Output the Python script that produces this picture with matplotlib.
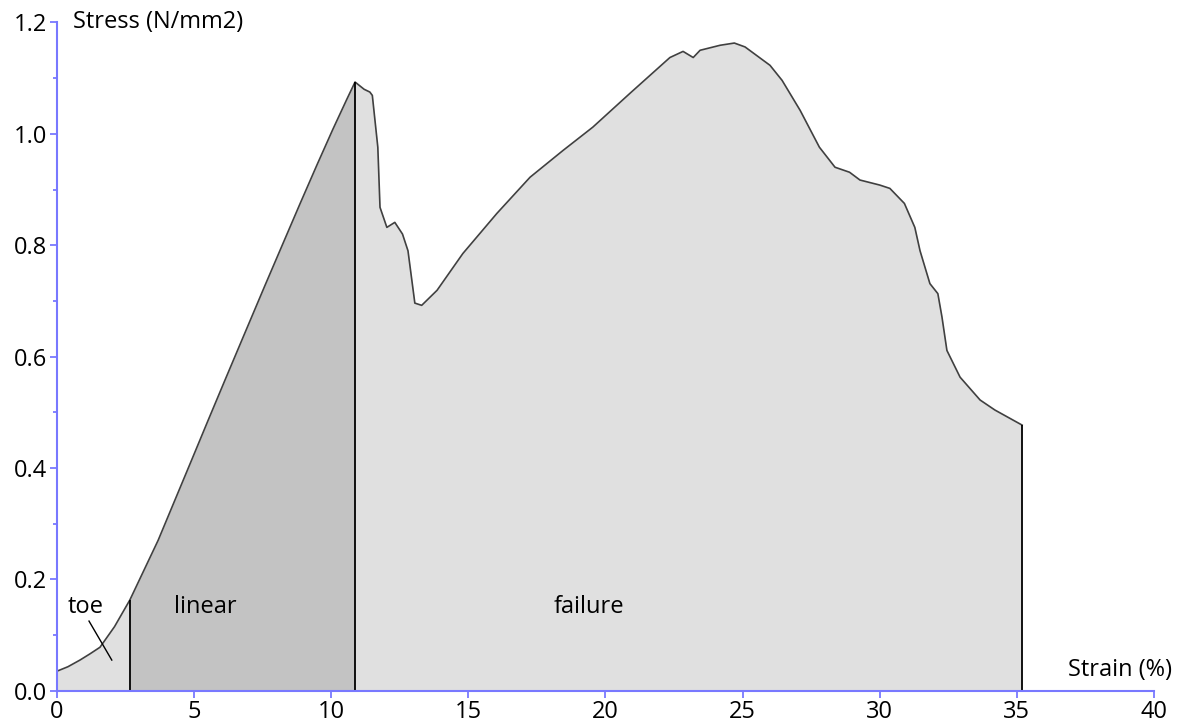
import numpy as np
import matplotlib.pyplot as plt
from matplotlib.ticker import MultipleLocator, FormatStrFormatter

# stress-strain curve
strain = [0.0, 0.4, 0.84, 1.2, 1.57, 2.1, 2.66, 3.69, 4.41, 4.91, 5.5, 6.13, 6.73,
          7.58, 8.25, 8.86, 9.48, 10.06, 10.57, 10.87, 11.2, 11.41, 11.5, 11.7, 11.78,
          12.03, 12.32, 12.6, 12.8, 13.05, 13.3, 13.86, 14.8, 16.04, 17.25, 18.45,
          19.54, 20.9, 22.35, 22.83, 23.2, 23.45, 24.18, 24.7, 25.09, 26.0, 26.44,
          27.1, 27.8, 28.37, 28.9, 29.28, 30.0, 30.37, 30.9, 31.28, 31.47, 31.83,
          32.12, 32.27, 32.45, 32.93, 33.66, 34.2, 35.19]
stress = [0.035, 0.043, 0.055, 0.066, 0.078, 0.115, 0.163, 0.27, 0.355, 0.414,
          0.484, 0.558, 0.628, 0.727, 0.804, 0.874, 0.944, 1.008, 1.062, 1.093, 1.08,
          1.075, 1.069, 0.976, 0.868, 0.832, 0.841, 0.82, 0.79, 0.696, 0.692, 0.719,
          0.785, 0.857, 0.922, 0.97, 1.012, 1.073, 1.137, 1.148, 1.137, 1.15, 1.159,
          1.163, 1.156, 1.123, 1.096, 1.042, 0.976, 0.94, 0.931, 0.917, 0.908, 0.902,
          0.875, 0.832, 0.79, 0.731, 0.713, 0.671, 0.611, 0.563, 0.522, 0.504, 0.477]

# region boundaries (strain %)
toe_end = 2.66
linear_end = 10.87
fail_end = 35.19
region_labels = ["toe", "linear", "failure"]
label_x = [1.05, 5.4, 19.4]
label_y = 0.15

x_ticks = [0, 5, 10, 15, 20, 25, 30, 35, 40]

plt.rcParams['font.family'] = ['Open Sans', 'DejaVu Sans']
fs = 17

strain = np.array(strain)
stress = np.array(stress)

fig = plt.figure(figsize=(11.86, 7.24), dpi=100)
ax = fig.add_axes([0.048, 0.046, 0.925, 0.923])

light = '#e0e0e0'
dark = '#c3c3c3'
ax.fill_between(strain, stress, where=strain <= toe_end, color=light, lw=0)
ax.fill_between(strain, stress, where=(strain >= toe_end) & (strain <= linear_end),
                color=dark, lw=0)
ax.fill_between(strain, stress, where=strain >= linear_end, color=light, lw=0)
ax.plot(strain, stress, color='#404040', lw=1.2)

for xb in [toe_end, linear_end, fail_end]:
    ax.vlines(xb, 0, np.interp(xb, strain, stress), color='black', lw=1.3)

for txt, tx in zip(region_labels, label_x):
    ax.text(tx, label_y, txt, fontsize=fs, ha='center', va='center')
# little slash pointing at the toe part of the curve
ax.plot([1.17, 2.0], [0.125, 0.055], color='black', lw=1.0)

ax.set_xlim(0, 40)
ax.set_ylim(0, 1.2)
ax.set_xticks(x_ticks)
ax.yaxis.set_major_locator(MultipleLocator(0.2))
ax.yaxis.set_minor_locator(MultipleLocator(0.1))
ax.yaxis.set_major_formatter(FormatStrFormatter('%.1f'))

axis_col = '#7878ff'
for s in ['top', 'right']:
    ax.spines[s].set_visible(False)
for s in ['left', 'bottom']:
    ax.spines[s].set_color(axis_col)
    ax.spines[s].set_linewidth(1.5)
ax.tick_params(which='major', length=5, width=1.3, color=axis_col, labelsize=fs, pad=2)
ax.tick_params(which='minor', length=3, width=1.3, color=axis_col)

ax.text(0.58, 1.2, "Stress (N/mm2)", fontsize=fs, ha='left', va='center', clip_on=False)
ax.text(40.66, 0.037, "Strain (%)", fontsize=fs, ha='right', va='center', clip_on=False)

fig.savefig("out.png", dpi=100)
